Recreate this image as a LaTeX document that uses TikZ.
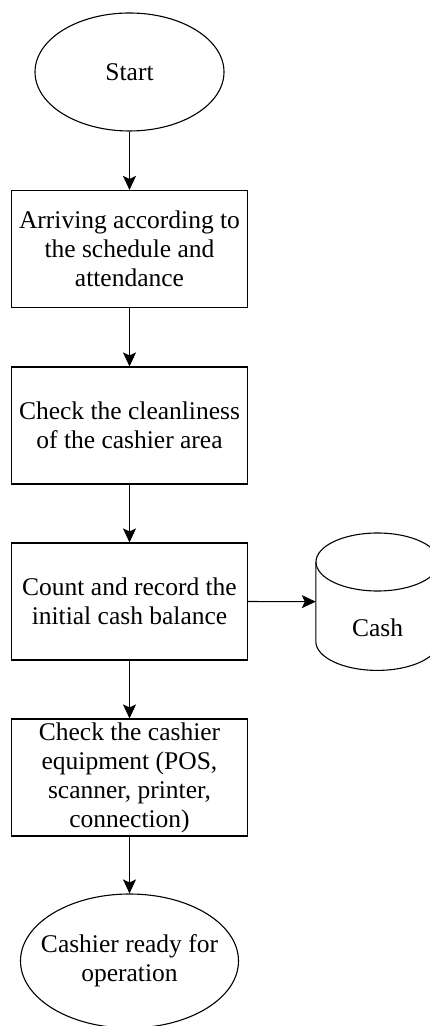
\documentclass[tikz,border=0pt]{standalone}
\usepackage{fontspec}
\setmainfont{Liberation Serif}
\usetikzlibrary{arrows.meta,shapes.geometric}

\begin{document}
\begin{tikzpicture}[x=1pt, y=1pt, auto,
    terminal/.style ={ellipse, draw, line width=1.1pt, inner sep=0pt, align=center},
    process/.style ={rectangle, draw, line width=1.1pt, minimum width=236pt, minimum height=117pt, inner sep=0pt, align=center},
    flow/.style ={line width=1.2pt, -{Stealth[length=14pt, width=13pt, inset=3pt]}}]
   \clip (0,0) rectangle (430,1026);
   \fontsize{25.5}{29}\selectfont
   \node[terminal, minimum width=189pt, minimum height=118pt] (S) at (129.5,954) {Start};
   \node[process] (A) at (129.5,777) {Arriving according to\\the schedule and\\attendance};
   \node[process] (B) at (129.5,600.5) {Check the cleanliness\\of the cashier area};
   \node[process] (C) at (129.5,424.5) {Count and record the\\initial cash balance};
   \node[process] (D) at (129.5,248.5) {Check the cashier\\equipment (POS,\\scanner, printer,\\connection)};
   \node[terminal, inner xsep=-14pt, minimum width=218pt, minimum height=134pt] (E) at (129.5,65) {Cashier ready for\\operation};
   \node[minimum width=123pt, minimum height=137pt, inner sep=0pt,
         label={[yshift=-26pt]center:Cash}] (K) at (377.5,424.3) {};

   % cylinder for the cash store
   \draw[line width=1.1pt] ([yshift=-29pt]K.north) ellipse [x radius=61.5pt, y radius=29pt];
   \draw[line width=1.1pt] ([yshift=-29pt]K.north west) -- ([yshift=29pt]K.south west)
      arc [start angle=180, end angle=360, x radius=61.5pt, y radius=29pt]
      -- ([yshift=-29pt]K.north east);

   \draw[flow] (S) to (A);
   \draw[flow] (A) to (B);
   \draw[flow] (B) to (C);
   \draw[flow] (C) to (K);
   \draw[flow] (C) to (D);
   \draw[flow] (D) to (E);
 \end{tikzpicture}
\end{document}
